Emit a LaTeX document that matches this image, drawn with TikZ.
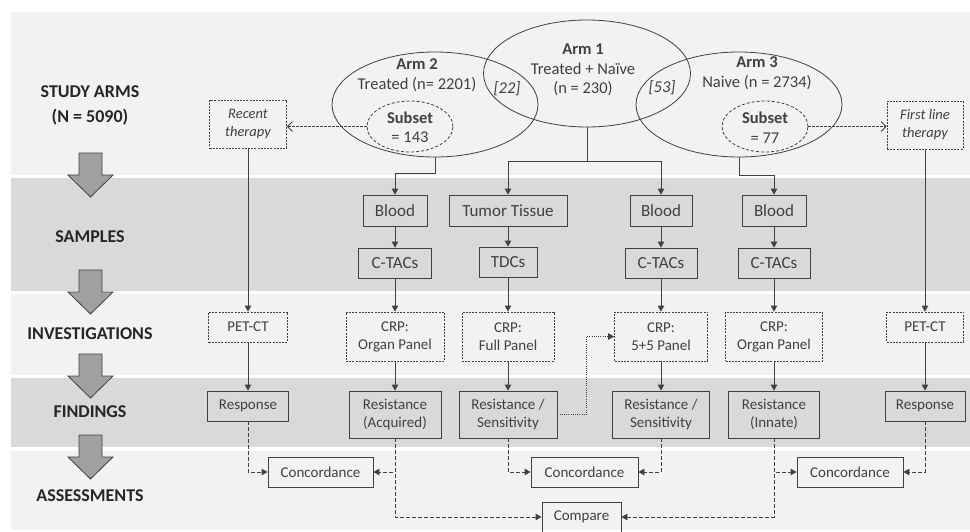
\documentclass[tikz,border=0pt]{standalone}
\usepackage{fontspec}
\setmainfont{Carlito}
\usepackage{tikz}
\usetikzlibrary{arrows.meta,calc,positioning,shapes.geometric}
\definecolor{bandlight}{HTML}{F2F2F2}
\definecolor{banddark}{HTML}{D9D9D9}
\definecolor{inkgray}{HTML}{404040}
\definecolor{stagetext}{HTML}{262626}
\definecolor{arrowfill}{HTML}{A0A0A0}

\begin{document}
\begin{tikzpicture}[x=1pt,y=-1pt,>={Triangle[length=6pt,width=6.5pt]},
    box/.style={draw=inkgray,text=inkgray,line width=0.8pt,align=center,inner sep=0pt,minimum height=30pt,font=\fontsize{15}{18}\selectfont},
    dbox/.style={box,dash pattern=on 2pt off 1.2pt},
    sbox/.style={box,font=\fontsize{17}{20}\selectfont},
    stage/.style={text=stagetext,align=center,font=\bfseries\fontsize{18}{25}\selectfont},
    arm/.style={draw=inkgray,line width=0.8pt,ellipse,inner sep=0pt,minimum width=206pt,minimum height=105pt},
    subset/.style={arm,dash pattern=on 3pt off 2pt,minimum width=86pt,minimum height=51pt},
    armtext/.style={text=inkgray,align=center,font=\fontsize{16.5}{19.5}\selectfont},
    flow/.style={->,draw=inkgray,line width=0.8pt},
    link/.style={flow,dash pattern=on 3.5pt off 2.5pt},
    note/.style={draw=inkgray,line width=0.8pt,dash pattern=on 2.5pt off 1.5pt,-{Straight Barb[length=5pt,width=10pt]}}]
    \useasboundingbox (0,0) rectangle (970,531);

    % stage bands
    \fill[bandlight] (11,12) rectangle (970,175);
    \fill[banddark] (11,178) rectangle (970,291);
    \fill[bandlight] (11,294) rectangle (970,375);
    \fill[banddark] (11,378) rectangle (970,447);
    \fill[bandlight] (11,451) rectangle (970,530);

    % stage labels and block arrows
    \node[stage] (lblarms) at (90,105.5) {STUDY ARMS\\(N = 5090)};
    \node[stage] (lblsamples) at (90,237) {SAMPLES};
    \node[stage] (lblinv) at (90,334) {INVESTIGATIONS};
    \node[stage] (lblfind) at (90,412) {FINDINGS};
    \node[stage] (lblassess) at (90,496) {ASSESSMENTS};
    \foreach \t in {153,270,354,435}
      \draw[draw=inkgray,fill=arrowfill,line width=0.8pt] (79,\t) -- (102,\t) -- (102,\t+22) -- (113,\t+22) -- (90.5,\t+44) -- (68,\t+22) -- (79,\t+22) -- cycle;

    % study arms
    \node[arm] (arm2) at (435,104.5) {};
    \node[arm,minimum width=207pt,minimum height=107pt] (arm1) at (587,73.5) {};
    \node[arm] (arm3) at (739,104.5) {};
    \node[subset] (sub2) at (410,126.5) {};
    \node[subset] (sub3) at (765,126.5) {};
    \node[armtext] (arm2txt) at (417,75) {\textbf{Arm 2}\\Treated (n= 2201)};
    \node[armtext] (arm1txt) at (583,70) {\textbf{Arm 1}\\Treated + Naïve\\(n = 230)};
    \node[armtext] (arm3txt) at (757,73) {\textbf{Arm 3}\\Naive (n = 2734)};
    \node[armtext] (sub2txt) at (410,127.5) {\textbf{Subset}\\= 143};
    \node[armtext] (sub3txt) at (765,127.5) {\textbf{Subset}\\= 77};
    \node[armtext,font=\itshape\fontsize{16.5}{19.5}\selectfont] (ov12) at (507,89) {[22]};
    \node[armtext,font=\itshape\fontsize{16.5}{19.5}\selectfont] (ov13) at (662,88) {[53]};

    \node[dbox,minimum width=77pt,minimum height=48pt,font=\itshape\fontsize{14.5}{18}\selectfont] (recent) at (248,124) {Recent\\therapy};
    \node[dbox,minimum width=76pt,minimum height=48pt,font=\itshape\fontsize{14.5}{18}\selectfont] (firstline) at (925,125) {First line\\therapy};

    % samples
    \node[sbox,minimum width=64pt,minimum height=31pt] (blood1) at (395,210.5) {Blood};
    \node[sbox,minimum width=73pt] (ctacs1) at (395,263) {C-TACs};
    \node[sbox,minimum width=118pt,minimum height=31pt] (tumor) at (508,210.5) {Tumor Tissue};
    \node[sbox,minimum width=58pt] (tdcs) at (508,262) {TDCs};
    \node[sbox,minimum width=62pt,minimum height=31pt] (blood2) at (661,210.5) {Blood};
    \node[sbox,minimum width=72pt] (ctacs2) at (661,263) {C-TACs};
    \node[sbox,minimum width=64pt,minimum height=31pt] (blood3) at (774,210.5) {Blood};
    \node[sbox,minimum width=72pt] (ctacs3) at (774,263) {C-TACs};

    % investigations
    \node[dbox,minimum width=79pt] (petct1) at (248,327) {PET-CT};
    \node[dbox,minimum width=98pt,minimum height=49pt] (crporg1) at (395,336.5) {CRP:\\Organ Panel};
    \node[dbox,minimum width=92pt,minimum height=49pt] (crpfull) at (508,336.5) {CRP:\\Full Panel};
    \node[dbox,minimum width=93pt,minimum height=49pt] (crp55) at (661,336.5) {CRP:\\5+5 Panel};
    \node[dbox,minimum width=97pt,minimum height=49pt] (crporg2) at (774,336.5) {CRP:\\Organ Panel};
    \node[dbox,minimum width=77pt] (petct2) at (925,327) {PET-CT};

    % findings
    \node[box,minimum width=81pt] (resp1) at (248,406) {Response};
    \node[box,minimum width=92pt,minimum height=47pt] (resacq) at (395,414.5) {Resistance\\(Acquired)};
    \node[box,minimum width=98pt,minimum height=47pt] (ressens1) at (508,414.5) {Resistance /\\Sensitivity};
    \node[box,minimum width=97pt,minimum height=47pt] (ressens2) at (661,414.5) {Resistance /\\Sensitivity};
    \node[box,minimum width=91pt,minimum height=47pt] (resinn) at (774,414.5) {Resistance\\(Innate)};
    \node[box,minimum width=80pt] (resp2) at (925,406) {Response};

    % assessments
    \node[box,minimum width=105pt] (conc1) at (320.5,472) {Concordance};
    \node[box,minimum width=107pt] (conc2) at (584.5,472) {Concordance};
    \node[box,minimum width=106pt] (conc3) at (850,472) {Concordance};
    \node[box,minimum width=79pt] (compare) at (581.5,517) {Compare};

    % connectors
    \draw[note] (sub2.west) -- (sub2.west -| recent.east);
    \draw[note] (sub3.east) -- (sub3.east -| firstline.west);
    \draw[flow] (arm2.south) -- ++(0,16) -| (blood1);
    \draw[draw=inkgray,line width=0.8pt] (arm1.south) -- ++(0,34) coordinate (split);
    \draw[flow] (split) -| (tumor);
    \draw[flow] (split) -| (blood2);
    \draw[flow] (arm3.south) -- ++(0,18) -| (blood3);
    \foreach \a/\b in {recent/petct1,petct1/resp1,firstline/petct2,petct2/resp2,
        blood1/ctacs1,ctacs1/crporg1,crporg1/resacq,tumor/tdcs,tdcs/crpfull,crpfull/ressens1,
        blood2/ctacs2,ctacs2/crp55,crp55/ressens2,blood3/ctacs3,ctacs3/crporg2,crporg2/resinn}
      \draw[flow] (\a) -- (\b);
    \draw[flow,dash pattern=on 1pt off 1.2pt] (ressens1.east) -- ++(29,0) |- (crp55.west);
    \draw[link] (resp1) |- (conc1);
    \draw[link] (resacq) |- (conc1);
    \draw[link] (resacq) |- (compare);
    \draw[link] (ressens1) |- (conc2);
    \draw[link] (ressens2) |- (conc2);
    \draw[link] (resinn) |- (conc3);
    \draw[link] (resinn) |- (compare);
    \draw[link] (resp2) |- (conc3);
  \end{tikzpicture}
\end{document}
